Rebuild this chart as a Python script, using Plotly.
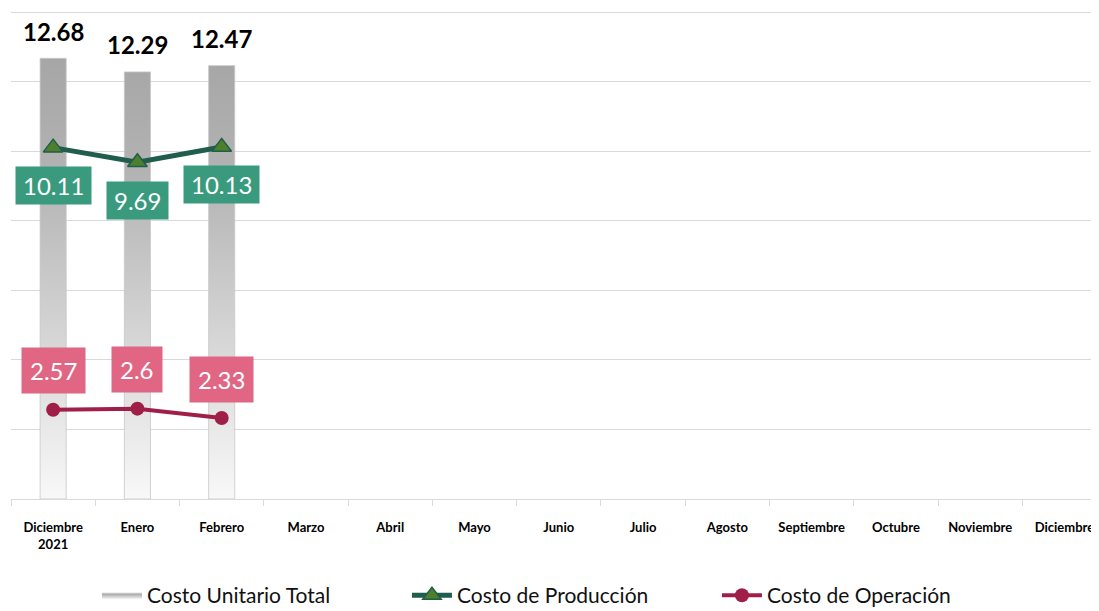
import plotly.graph_objects as go

# datos
meses = ["Diciembre<br>2021", "Enero", "Febrero", "Marzo", "Abril", "Mayo", "Junio",
         "Julio", "Agosto", "Septiembre", "Octubre", "Noviembre", "Diciembre"]
costo_total = [12.68, 12.29, 12.47]
costo_produccion = [10.11, 9.69, 10.13]
costo_operacion = [2.57, 2.60, 2.33]

pos = list(range(len(meses)))
ancho = 0.155  # media anchura de barra (en unidades de categoria)

# barras con degradado: poligonos rellenos por barra
bx, by = [], []
for i, v in enumerate(costo_total):
    bx += [i - ancho, i - ancho, i + ancho, i + ancho, i - ancho, None]
    by += [0, v, v, 0, 0, None]

fig = go.Figure()

fig.add_trace(go.Scatter(
    x=bx, y=by, mode="lines", fill="toself",
    line=dict(color="#c8c8c8", width=0.8),
    fillgradient=dict(type="vertical", start=0, stop=12.7,
                      colorscale=[[0, "#f8f8f8"], [0.4, "#d2d2d2"],
                                  [0.75, "#b2b2b2"], [1, "#a6a6a6"]]),
    name="Costo Unitario Total", hoverinfo="skip",
))

fig.add_trace(go.Scatter(
    x=pos[:len(costo_produccion)], y=costo_produccion, mode="lines+markers",
    line=dict(color="#1f5e4c", width=5),
    marker=dict(symbol="triangle-up", size=17, color="#4d7f2d",
                line=dict(color="#1f5e4c", width=1.5)),
    name="Costo de Producción",
))

fig.add_trace(go.Scatter(
    x=pos[:len(costo_operacion)], y=costo_operacion, mode="lines+markers",
    line=dict(color="#a01f48", width=4),
    marker=dict(symbol="circle", size=14, color="#a01f48"),
    name="Costo de Operación",
))

anots = []
for i, v in enumerate(costo_total):
    anots.append(dict(x=i, y=v, text="<b>%g</b>" % v, showarrow=False, yshift=27,
                      font=dict(family="Lato", size=24, color="#000000")))
for i, v in enumerate(costo_produccion):
    anots.append(dict(x=i, y=v, text="\u2009%g\u2009" % v, showarrow=False, yshift=-38,
                      bgcolor="#3a9a7e", borderpad=4,
                      font=dict(family="Lato", size=24, color="white")))
for i, v in enumerate(costo_operacion):
    anots.append(dict(x=i, y=v, text="%g" % v, showarrow=False, yshift=39,
                      bgcolor="#e06683", borderpad=8,
                      font=dict(family="Lato", size=24, color="white")))

# la pagina deja 8px de margen en el body: figura algo menor que la ventana
fig.update_layout(
    width=1091, height=603,
    margin=dict(l=3, r=0, t=1, b=112, autoexpand=False),
    plot_bgcolor="white", paper_bgcolor="white",
    showlegend=True,
    legend=dict(orientation="h", x=0.079, xanchor="left", y=-0.197, yanchor="middle",
                font=dict(family="Lato", size=21, color="#111111"),
                itemwidth=40, entrywidth=255, tracegroupgap=0),
    annotations=anots,
)

fig.update_xaxes(
    range=[-0.5, 12.41], tickmode="array", tickvals=pos, ticktext=["<b>%s</b>" % m for m in meses],
    tickfont=dict(family="Lato", size=13, color="#000000"),
    ticks="outside", ticklen=16, tickcolor="rgba(0,0,0,0)",
    showline=True, linecolor="#d9d9d9", linewidth=1, showgrid=False, zeroline=False,
    minor=dict(tickmode="array", tickvals=[p + 0.5 for p in pos[:-1]] + [-0.5],
               ticks="outside", ticklen=6, tickcolor="#d9d9d9", showgrid=False),
)
fig.update_yaxes(
    range=[0, 14.1], tickmode="array", tickvals=[0, 2, 4, 6, 8, 10, 12, 14],
    showticklabels=False, showgrid=True, gridcolor="#d9d9d9", gridwidth=1,
    zeroline=False, showline=False,
)

fig.write_html("out.html")
